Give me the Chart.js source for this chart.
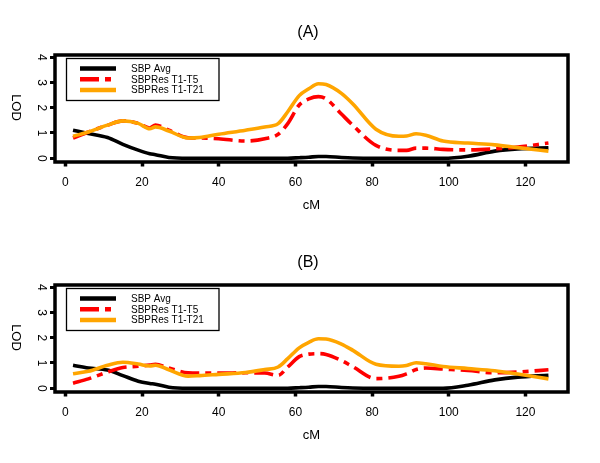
<!DOCTYPE html>
<html><head><meta charset="utf-8">
<script src="https://cdn.jsdelivr.net/npm/chart.js@4.4.0/dist/chart.umd.min.js"></script>
<style>
html,body{margin:0;padding:0;background:#fff;}
.wrap{position:absolute;left:0;width:600px;height:230px;}
canvas{display:block;}
</style></head><body>
<div class="wrap" style="top:0"><canvas id="cA" width="600" height="230"></canvas></div>
<div class="wrap" style="top:230px"><canvas id="cB" width="600" height="230"></canvas></div>
<script>
const cM = [2, 6, 11, 15, 19, 22, 23.5, 27, 32, 35, 40, 47, 52, 55.5, 58, 61, 63.5, 66, 68, 72, 75, 81, 87, 89, 91.5, 94, 98.5, 105, 112, 118, 126];
const xTicks = [0, 20, 40, 60, 80, 100, 120];
const yTicks = [0, 1, 2, 3, 4];
const seriesNames = ['SBP Avg', 'SBPRes T1-T5', 'SBPRes T1-T21'];

const sbpAvgA = [1.11,0.98,0.82,0.55,0.32,0.18,0.14,0.03,0,0,0,0,0,0,0,0.02,0.04,0.07,0.07,0.03,0.01,0,0,0,0,0,0,0.08,0.28,0.37,0.41];
const t5A = [0.80,1.04,1.31,1.48,1.38,1.20,1.31,1.11,0.81,0.80,0.77,0.68,0.77,0.95,1.37,2.11,2.35,2.44,2.35,1.75,1.30,0.51,0.31,0.31,0.40,0.40,0.35,0.33,0.37,0.44,0.60];
const t21A = [0.87,1.04,1.31,1.48,1.38,1.17,1.24,1.08,0.80,0.82,0.95,1.11,1.24,1.37,1.84,2.48,2.75,2.95,2.92,2.57,2.15,1.15,0.87,0.88,0.97,0.91,0.68,0.60,0.53,0.42,0.28];

const sbpAvgB = [0.91,0.80,0.72,0.50,0.28,0.19,0.16,0.04,0,0,0,0,0,0,0,0.02,0.04,0.07,0.07,0.03,0.01,0,0,0,0,0,0,0.12,0.33,0.44,0.51];
const t5B = [0.20,0.37,0.64,0.82,0.87,0.92,0.95,0.80,0.61,0.60,0.60,0.61,0.60,0.51,0.84,1.25,1.35,1.37,1.34,1.10,0.85,0.38,0.47,0.57,0.74,0.80,0.76,0.70,0.61,0.64,0.73];
const t21B = [0.57,0.67,0.91,1.03,0.96,0.88,0.91,0.73,0.48,0.50,0.55,0.62,0.74,0.84,1.17,1.60,1.82,1.96,1.95,1.75,1.50,0.95,0.87,0.90,1.01,0.97,0.86,0.78,0.69,0.56,0.37];

const FONT = "'Liberation Sans', Arial, Helvetica, sans-serif";
Chart.defaults.font.family = FONT;
Chart.defaults.color = '#000';

const styles = [
  {color:'#000000', dash:[], order:2},
  {color:'#ff0000', dash:[19,6,6,6], order:1},
  {color:'#ffa500', dash:[], order:0}
];

const decor = {
  id:'decor',
  afterDraw(chart, args, opts){
    const ctx = chart.ctx, a = chart.chartArea;
    ctx.save();
    // frame
    ctx.strokeStyle = '#000'; ctx.lineWidth = 3.5; ctx.setLineDash([]);
    ctx.strokeRect(a.left, a.top, a.right - a.left, a.bottom - a.top);
    // panel title
    ctx.fillStyle = '#000';
    ctx.font = '16px ' + FONT;
    ctx.textAlign = 'center'; ctx.textBaseline = 'middle';
    ctx.fillText(opts.title, 308, 33);
    // y tick labels (rotated)
    const ys = chart.scales.y;
    ctx.font = '12px ' + FONT;
    ys.ticks.forEach(t => {
      const y = ys.getPixelForValue(t.value);
      ctx.save(); ctx.translate(41.5, y); ctx.rotate(Math.PI/2);
      ctx.fillText(String(t.value), 0, 0); ctx.restore();
    });
    // y title
    ctx.font = '13px ' + FONT;
    ctx.save(); ctx.translate(16, (a.top + a.bottom)/2 - 1); ctx.rotate(Math.PI/2);
    ctx.fillText('LOD', 0, 0); ctx.restore();
    // legend
    const lx = 66.5, ly = 58.5, lw = 152.5, lh = 42;
    ctx.fillStyle = '#fff'; ctx.fillRect(lx, ly, lw, lh);
    ctx.strokeStyle = '#000'; ctx.lineWidth = 1.3; ctx.strokeRect(lx, ly, lw, lh);
    ctx.font = '10px ' + FONT; ctx.textAlign = 'left'; ctx.textBaseline = 'middle';
    chart.data.datasets.forEach((ds, i) => {
      const y = 68.5 + i * 10.8;
      ctx.strokeStyle = ds.borderColor; ctx.lineWidth = 4.5; ctx.lineCap = 'butt';
      ctx.setLineDash(ds.borderDash || []);
      ctx.beginPath(); ctx.moveTo(80, y); ctx.lineTo(116, y); ctx.stroke();
      ctx.setLineDash([]);
      ctx.fillStyle = '#000'; ctx.fillText(ds.label, 131, y + 0.5);
    });
    ctx.restore();
  }
};

function makeChart(id, title, vals){
  return new Chart(document.getElementById(id), {
    type:'line',
    data:{
      datasets: vals.map((v, i) => ({
        label: seriesNames[i],
        data: cM.map((x, j) => ({x:x, y:v[j]})),
        borderColor: styles[i].color,
        borderDash: styles[i].dash,
        borderWidth: 3.6,
        pointRadius: 0,
        cubicInterpolationMode: 'monotone',
        order: styles[i].order,
        fill:false
      }))
    },
    options:{
      responsive:false, animation:false, devicePixelRatio:1,
      layout:{padding:{left:16, right:32, top:55, bottom:0}},
      plugins:{
        legend:{display:false}, tooltip:{enabled:false}, title:{display:false},
        decor:{title:title}
      },
      scales:{
        x:{type:'linear', min:-2.7, max:131.1,
          afterBuildTicks: s => { s.ticks = xTicks.map(v => ({value:v})); },
          afterFit: s => { s.height = 68; },
          grid:{display:true, drawOnChartArea:false, drawTicks:true, tickLength:4.5, tickWidth:3.5, tickColor:'#000'},
          border:{display:false},
          ticks:{color:'#000', font:{family:FONT, size:12}, padding:9, maxRotation:0, minRotation:0, autoSkip:false},
          title:{display:true, text:'cM', color:'#000', font:{family:FONT, size:13}, padding:{top:0, bottom:17}}
        },
        y:{type:'linear', min:-0.15, max:4.09,
          afterBuildTicks: s => { s.ticks = yTicks.map(v => ({value:v})); },
          afterFit: s => { s.width = 39; },
          grid:{display:true, drawOnChartArea:false, drawTicks:true, tickLength:5, tickWidth:3, tickColor:'#000'},
          border:{display:false},
          ticks:{display:false}
        }
      }
    },
    plugins:[decor]
  });
}
makeChart('cA', '(A)', [sbpAvgA, t5A, t21A]);
makeChart('cB', '(B)', [sbpAvgB, t5B, t21B]);
</script>
</body></html>
